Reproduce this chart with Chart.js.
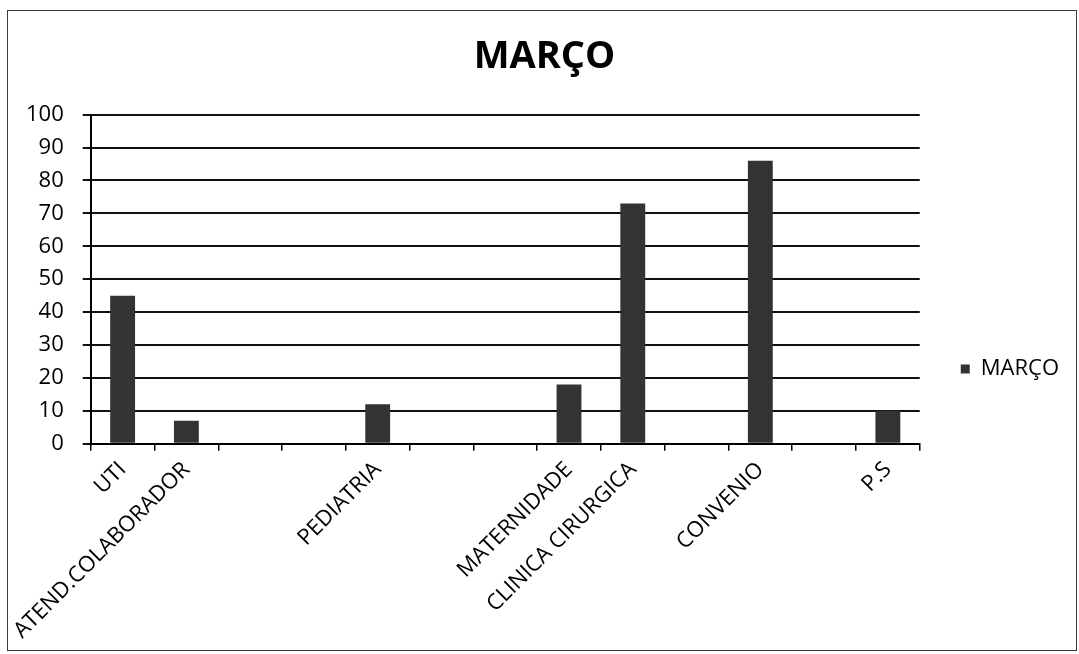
<!DOCTYPE html>
<html lang="pt">
<head>
<meta charset="utf-8">
<title>MARÇO</title>
<script src="https://cdn.jsdelivr.net/npm/chart.js@4/dist/chart.umd.min.js"></script>
<style>
  html, body { margin: 0; padding: 0; background: #fff; }
  #wrap { width: 1079px; height: 654px; position: relative; }
</style>
</head>
<body>
<div id="wrap"><canvas id="chart" width="1079" height="654"></canvas></div>
<script>
// Setores (categorias do eixo X; posições vazias ficam sem rótulo)
const setores = ['UTI', 'ATEND.COLABORADOR', '', '', 'PEDIATRIA', '', '', 'MATERNIDADE', 'CLINICA CIRURGICA', '', 'CONVENIO', '', 'P.S'];
// Valores de março por setor
const valoresMarco = [45, 7, null, null, 12, null, null, 18, 73, null, 86, null, 10];
// Escala do eixo Y
const eixoY = { min: 0, max: 100, passo: 10 };
const serieNome = 'MARÇO';
const tituloGrafico = 'MARÇO';

const fonte = "'Open Sans', 'Liberation Sans', sans-serif";
const corBarra = '#333333';

// Moldura em volta do gráfico
const moldura = {
  id: 'moldura',
  beforeDraw(chart) {
    const ctx = chart.ctx;
    ctx.save();
    ctx.fillStyle = '#ffffff';
    ctx.fillRect(0, 0, chart.width, chart.height);
    ctx.strokeStyle = '#3a3a3a';
    ctx.lineWidth = 1;
    ctx.strokeRect(7.5, 10.5, chart.width - 10, chart.height - 14);
    ctx.restore();
  }
};

// Centraliza o título na largura toda e afasta/desce a legenda
const ajusteLayout = {
  id: 'ajusteLayout',
  afterLayout(chart) {
    const tb = chart.titleBlock;
    if (tb) { tb.left += 22; tb.right += 22; }
    const lg = chart.legend;
    if (lg) {
      lg.left += 31; lg.right += 31;
      lg.top += 88;
    }
  }
};

new Chart(document.getElementById('chart'), {
  type: 'bar',
  data: {
    labels: setores,
    datasets: [{
      label: serieNome,
      data: valoresMarco,
      backgroundColor: corBarra,
      borderWidth: 0,
      categoryPercentage: 1.0,
      barPercentage: 0.39
    }]
  },
  plugins: [moldura, ajusteLayout],
  options: {
    responsive: false,
    animation: false,
    layout: { padding: { left: 7, right: 41, top: 0, bottom: 4 } },
    plugins: {
      title: {
        display: true,
        text: tituloGrafico,
        color: '#000',
        font: { family: fonte, size: 38, weight: 'bold', lineHeight: 1.2 },
        padding: { top: 34, bottom: 35 }
      },
      legend: {
        display: true,
        position: 'right',
        align: 'center',
        labels: {
          color: '#000',
          font: { family: fonte, size: 22 },
          boxWidth: 9,
          boxHeight: 9,
          padding: 10
        }
      },
      tooltip: { enabled: false }
    },
    scales: {
      x: {
        offset: true,
        grid: {
          offset: true,
          drawOnChartArea: false,
          drawTicks: true,
          tickLength: 7,
          color: '#000',
          lineWidth: 1.5
        },
        border: { display: true, color: '#000', width: 2 },
        ticks: {
          autoSkip: false,
          minRotation: 45,
          maxRotation: 45,
          padding: 6,
          color: '#000',
          font: { family: fonte, size: 22 }
        }
      },
      y: {
        min: eixoY.min,
        max: eixoY.max,
        grid: {
          color: '#111',
          lineWidth: 2,
          drawTicks: true,
          tickLength: 8
        },
        border: { display: true, color: '#000', width: 2 },
        ticks: {
          stepSize: eixoY.passo,
          padding: 19,
          color: '#000',
          font: { family: fonte, size: 22 }
        }
      }
    }
  }
});
</script>
</body>
</html>
